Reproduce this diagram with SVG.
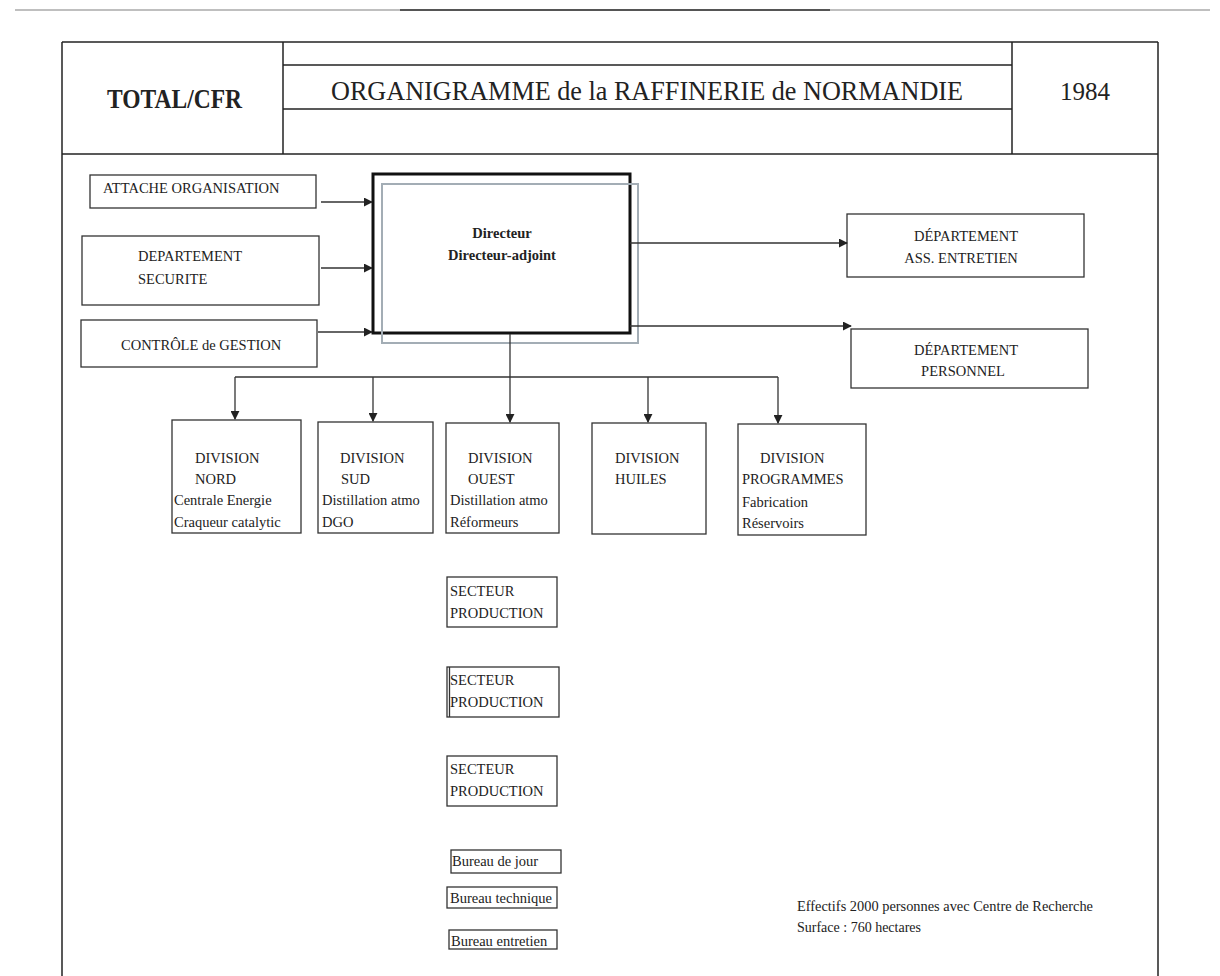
<svg xmlns="http://www.w3.org/2000/svg" width="1220" height="976" viewBox="0 0 1220 976">
<defs>
<style>
.t{font-family:"Liberation Serif","Times New Roman",serif;font-size:14.5px;fill:#222}
.b{font-weight:bold}
.h1{font-size:28px;font-weight:bold}
.h2{font-size:27px}
.h3{font-size:25px}
.sm{font-size:14px}
.box{fill:none;stroke:#333;stroke-width:1.3}
.ln{fill:none;stroke:#333;stroke-width:1.3}
.fr{fill:none;stroke:#222;stroke-width:1.5}
</style>
<marker id="ar" viewBox="0 0 10 10" refX="9" refY="5" markerWidth="9" markerHeight="9" markerUnits="userSpaceOnUse" orient="auto">
<path d="M0,0 L10,5 L0,10 Z" fill="#222"/>
</marker>
</defs>
<rect width="1220" height="976" fill="#fff"/>
<g id="scan-edge">
<line x1="15" y1="10" x2="1210" y2="10" stroke="#aaa" stroke-width="1.5"/>
<line x1="400" y1="10" x2="830" y2="10" stroke="#555" stroke-width="2"/>
</g>
<g id="header">
<line class="fr" x1="62" y1="42" x2="1158" y2="42" stroke-width="2"/>
<line class="fr" x1="62" y1="42" x2="62" y2="976"/>
<line class="fr" x1="1158" y1="42" x2="1158" y2="976"/>
<line class="fr" x1="62" y1="154" x2="1158" y2="154" stroke-width="2"/>
<line class="fr" x1="283" y1="42" x2="283" y2="154"/>
<line class="fr" x1="1012" y1="42" x2="1012" y2="154"/>
<line class="fr" x1="283" y1="65" x2="1012" y2="65" stroke-width="2.5"/>
<line class="fr" x1="283" y1="109" x2="1012" y2="109" stroke-width="2.5"/>
<text class="t h1" x="107" y="108" textLength="135" lengthAdjust="spacingAndGlyphs">TOTAL/CFR</text>
<text class="t h2" x="331" y="100" textLength="632" lengthAdjust="spacingAndGlyphs">ORGANIGRAMME de la  RAFFINERIE de NORMANDIE</text>
<text class="t h3" x="1085" y="100" text-anchor="middle">1984</text>
</g>
<g id="attache">
<rect class="box" x="90" y="175" width="226" height="33"/>
<text class="t" x="103" y="193">ATTACHE ORGANISATION</text>
</g>
<g id="securite">
<rect class="box" x="82" y="236" width="237" height="69"/>
<text class="t" x="138" y="261">DEPARTEMENT</text>
<text class="t" x="138" y="284">SECURITE</text>
</g>
<g id="controle">
<rect class="box" x="81" y="320" width="236" height="47"/>
<text class="t" x="121" y="350">CONTRÔLE de GESTION</text>
</g>
<g id="directeur">
<rect x="373" y="174" width="257" height="159" fill="none" stroke="#111" stroke-width="3"/>
<rect x="382" y="184" width="256" height="159" fill="none" stroke="#a3adb5" stroke-width="2"/>
<text class="t b" x="502" y="238" text-anchor="middle">Directeur</text>
<text class="t b" x="502" y="260" text-anchor="middle">Directeur-adjoint</text>
</g>
<g id="entretien">
<rect class="box" x="847" y="214" width="237" height="63"/>
<text class="t" x="966" y="241" text-anchor="middle">DÉPARTEMENT</text>
<text class="t" x="961" y="263" text-anchor="middle">ASS. ENTRETIEN</text>
</g>
<g id="personnel">
<rect class="box" x="851" y="329" width="237" height="59"/>
<text class="t" x="966" y="355" text-anchor="middle">DÉPARTEMENT</text>
<text class="t" x="963" y="376" text-anchor="middle">PERSONNEL</text>
</g>
<g id="div-nord">
<rect class="box" x="172" y="420" width="129" height="113"/>
<text class="t" x="195" y="463">DIVISION</text>
<text class="t" x="195" y="484">NORD</text>
<text class="t" x="174" y="505">Centrale Energie</text>
<text class="t" x="174" y="527">Craqueur catalytic</text>
</g>
<g id="div-sud">
<rect class="box" x="318" y="422" width="115" height="111"/>
<text class="t" x="340" y="463">DIVISION</text>
<text class="t" x="341" y="484">SUD</text>
<text class="t" x="322" y="505">Distillation atmo</text>
<text class="t" x="322" y="527">DGO</text>
</g>
<g id="div-ouest">
<rect class="box" x="446" y="423" width="113" height="110"/>
<text class="t" x="468" y="463">DIVISION</text>
<text class="t" x="468" y="484">OUEST</text>
<text class="t" x="450" y="505">Distillation atmo</text>
<text class="t" x="450" y="527">Réformeurs</text>
</g>
<g id="div-huiles">
<rect class="box" x="592" y="423" width="114" height="111"/>
<text class="t" x="615" y="463">DIVISION</text>
<text class="t" x="615" y="484">HUILES</text>
</g>
<g id="div-programmes">
<rect class="box" x="738" y="424" width="128" height="111"/>
<text class="t" x="760" y="463">DIVISION</text>
<text class="t" x="742" y="484">PROGRAMMES</text>
<text class="t" x="742" y="507">Fabrication</text>
<text class="t" x="742" y="528">Réservoirs</text>
</g>
<g id="secteur1">
<rect class="box" x="447" y="577" width="110" height="50"/>
<text class="t" x="450" y="596">SECTEUR</text>
<text class="t" x="450" y="618">PRODUCTION</text>
</g>
<g id="secteur2">
<rect class="box" x="447" y="667" width="112" height="50"/>
<line class="ln" x1="449.5" y1="667" x2="449.5" y2="717"/>
<text class="t" x="450" y="685">SECTEUR</text>
<text class="t" x="450" y="707">PRODUCTION</text>
</g>
<g id="secteur3">
<rect class="box" x="447" y="756" width="110" height="50"/>
<text class="t" x="450" y="774">SECTEUR</text>
<text class="t" x="450" y="796">PRODUCTION</text>
</g>
<g id="bureau-jour">
<rect class="box" x="451" y="850" width="110" height="23"/>
<text class="t" x="452" y="866">Bureau de jour</text>
</g>
<g id="bureau-technique">
<rect class="box" x="447" y="887" width="110" height="21"/>
<text class="t" x="450" y="903">Bureau technique</text>
</g>
<g id="bureau-entretien">
<rect class="box" x="449" y="930" width="108" height="19"/>
<text class="t" x="451" y="946">Bureau entretien</text>
</g>
<g id="note">
<text class="t sm" x="797" y="911" textLength="296" lengthAdjust="spacingAndGlyphs">Effectifs 2000 personnes avec Centre de Recherche</text>
<text class="t sm" x="797" y="932">Surface : 760 hectares</text>
</g>
<g id="connectors">
<line class="ln" x1="321" y1="202" x2="372" y2="202" marker-end="url(#ar)"/>
<line class="ln" x1="321" y1="268" x2="372" y2="268" marker-end="url(#ar)"/>
<line class="ln" x1="318" y1="332" x2="372" y2="332" marker-end="url(#ar)"/>
<line class="ln" x1="630" y1="243" x2="847" y2="243" marker-end="url(#ar)"/>
<line class="ln" x1="630" y1="326" x2="851" y2="326" marker-end="url(#ar)"/>
<line class="ln" x1="510" y1="334" x2="510" y2="422" marker-end="url(#ar)"/>
<line class="ln" x1="235" y1="377" x2="778" y2="377"/>
<line class="ln" x1="235" y1="377" x2="235" y2="419" marker-end="url(#ar)"/>
<line class="ln" x1="373" y1="377" x2="373" y2="421" marker-end="url(#ar)"/>
<line class="ln" x1="648" y1="377" x2="648" y2="422" marker-end="url(#ar)"/>
<line class="ln" x1="778" y1="377" x2="778" y2="423" marker-end="url(#ar)"/>
</g>
</svg>
